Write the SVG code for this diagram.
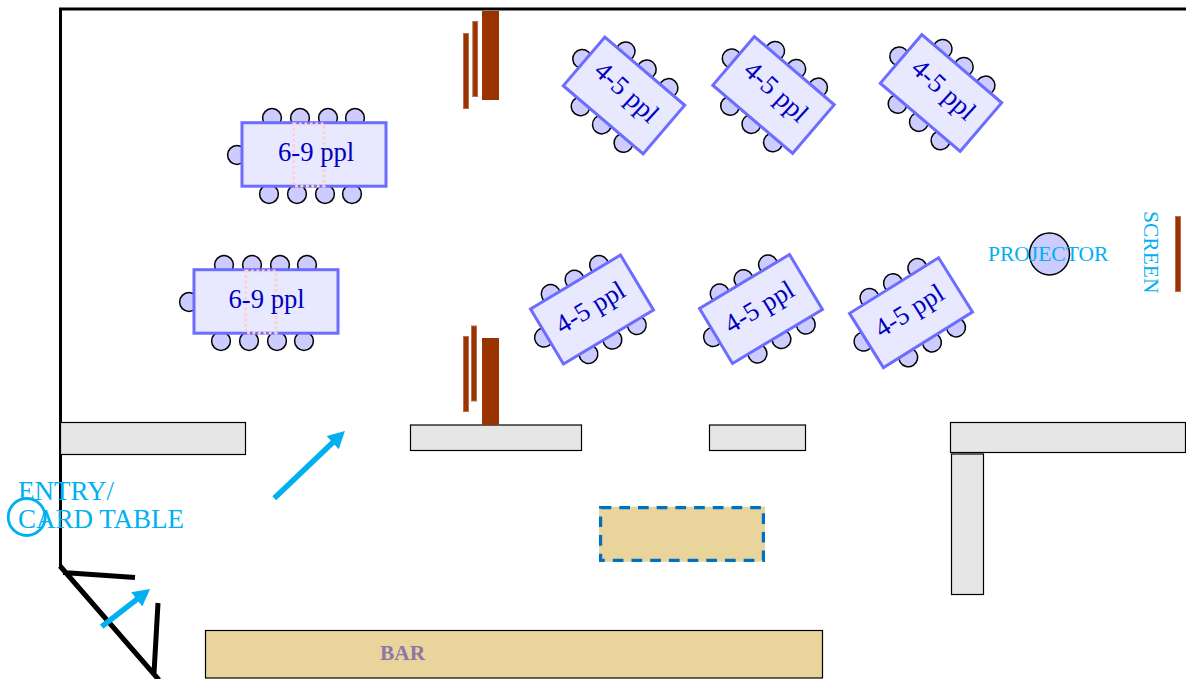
<svg xmlns="http://www.w3.org/2000/svg" width="1186" height="679" viewBox="0 0 1186 679">
<style>
text{font-family:"Liberation Serif","Times New Roman",serif}
.chair{fill:#ccf;stroke:#000;stroke-width:1.5}
.tbl{fill:#e8e8ff;stroke:#6c6cff;stroke-width:3}
.tl{font-size:26.67px;fill:#0000c0}
.pink{fill:none;stroke:#ffcfcf;stroke-width:2.800;stroke-dasharray:2.700 2.700}
.wall{fill:#e6e6e6;stroke:#000;stroke-width:1.200}
.cy{fill:#00b0f0}
.brown{fill:#993300}
.brown2{fill:#993300;stroke:#bd6f4d;stroke-width:1}
.ln{fill:none;stroke:#000;stroke-linecap:butt}
.ar{fill:none;stroke:#00b0f0;stroke-width:5.500;marker-end:url(#ah)}
</style>
<defs>
<marker id="ah" markerUnits="userSpaceOnUse" markerWidth="17" markerHeight="18" refX="1" refY="9" orient="auto" viewBox="0 0 17 18"><path d="M0 0L17 9L0 18Z" fill="#00b0f0"/></marker>
<g id="wide">
<circle class="chair" cx="272" cy="118" r="9.400"/><circle class="chair" cx="300" cy="118" r="9.400"/><circle class="chair" cx="328" cy="118" r="9.400"/><circle class="chair" cx="355" cy="118" r="9.400"/>
<circle class="chair" cx="269" cy="194" r="9.400"/><circle class="chair" cx="297" cy="194" r="9.400"/><circle class="chair" cx="325" cy="194" r="9.400"/><circle class="chair" cx="352" cy="194" r="9.400"/>
<circle class="chair" cx="237" cy="155" r="9.400"/>
<rect class="tbl" x="242" y="122.700" width="144" height="63.500"/>
<rect class="pink" x="293.700" y="124" width="30.500" height="62"/>
</g>
<g id="small">
<circle class="chair" cx="-27.400" cy="-34.600" r="9.400"/><circle class="chair" cx="0.400" cy="-34.600" r="9.400"/><circle class="chair" cx="29" cy="-34.600" r="9.400"/>
<circle class="chair" cx="-55.600" cy="-0.700" r="9.400"/>
<circle class="chair" cx="-26" cy="36.400" r="9.400"/><circle class="chair" cx="2" cy="36.400" r="9.400"/><circle class="chair" cx="30.400" cy="36.400" r="9.400"/>
<rect class="tbl" x="-52.500" y="-32" width="105" height="64"/>
</g>
</defs>
<g id="walls">
<path class="ln" stroke-width="3" d="M1186 9H60.500V567"/>
<rect id="wall-a" class="wall" x="60.500" y="422.500" width="185" height="32"/>
<rect id="wall-b" class="wall" x="410.500" y="425" width="171" height="25.500"/>
<rect id="wall-c" class="wall" x="709.500" y="425" width="96" height="25.500"/>
<rect id="wall-d" class="wall" x="950.500" y="422.500" width="235" height="30"/>
<rect id="wall-e" class="wall" x="951.500" y="454" width="32" height="140.500"/>
</g>
<g id="door">
<path class="ln" stroke-width="5" d="M60 566L159 680M63 572.500L135 577.500M158 603L154 673"/>
</g>
<g id="curtains">
<rect class="brown" x="482" y="11" width="17" height="89"/>
<rect class="brown2" x="472.800" y="21.500" width="4.800" height="75"/>
<rect class="brown2" x="463.500" y="33.500" width="5" height="75"/>
<rect class="brown" x="482" y="338" width="17" height="87"/>
<rect class="brown2" x="471.500" y="326" width="5" height="75"/>
<rect class="brown2" x="463.500" y="336.500" width="5" height="75"/>
<rect class="brown2" x="1175.500" y="216.500" width="5" height="75"/>
</g>
<g id="table-w1"><use href="#wide"/><text class="tl" x="278" y="161">6-9 ppl</text></g>
<g id="table-w2"><use href="#wide" x="-48" y="147"/><text class="tl" x="228.500" y="308">6-9 ppl</text></g>
<g id="table-s1" transform="translate(624 95.500) rotate(40.500)"><use href="#small"/><text class="tl" x="-38.500" y="3" transform="rotate(2 -38.500 3)">4-5 ppl</text></g>
<g id="table-s2" transform="translate(773.500 95) rotate(40.500)"><use href="#small"/><text class="tl" x="-38.500" y="3" transform="rotate(2 -38.500 3)">4-5 ppl</text></g>
<g id="table-s3" transform="translate(941 93) rotate(40.500)"><use href="#small"/><text class="tl" x="-38.500" y="3" transform="rotate(2 -38.500 3)">4-5 ppl</text></g>
<g id="table-s4" transform="translate(592 309.500) rotate(-31)"><use href="#small"/><text class="tl" x="-38.500" y="6">4-5 ppl</text></g>
<g id="table-s5" transform="translate(761 309) rotate(-31)"><use href="#small"/><text class="tl" x="-38.500" y="6">4-5 ppl</text></g>
<g id="table-s6" transform="translate(911 312.700) rotate(-32)"><use href="#small"/><text class="tl" x="-38.500" y="6">4-5 ppl</text></g>
<g id="projector">
<ellipse class="chair" cx="1049.500" cy="254" rx="20" ry="21"/>
<text class="cy" x="988" y="261" font-size="21.500">PROJECTOR</text>
</g>
<text id="screen" class="cy" font-size="21.500" transform="translate(1144 211) rotate(90)">SCREEN</text>
<g id="entry">
<circle cx="26.700" cy="517" r="18.500" fill="none" stroke="#00b0f0" stroke-width="2.800"/>
<text class="cy" x="18" y="500" font-size="27">ENTRY/</text>
<text class="cy" x="18" y="528" font-size="27">CARD TABLE</text>
</g>
<g id="connectors">
<path class="ar" d="M274.300 498.300L333.300 442"/>
<path class="ar" d="M101.700 626.700L137.500 598.800"/>
</g>
<g id="dashed">
<rect x="599" y="506.700" width="166" height="55" fill="#e9d59b"/>
<rect x="600.600" y="507.700" width="162.800" height="52.600" fill="none" stroke="#0070c0" stroke-width="3.200" stroke-dasharray="10.700 8"/>
</g>
<g id="bar">
<rect x="205.500" y="630.500" width="617" height="47.500" fill="#e9d59b" stroke="#000" stroke-width="1.200"/>
<text x="380" y="660" font-size="21.330" font-weight="700" fill="#8d76a8">BAR</text>
</g>
</svg>
